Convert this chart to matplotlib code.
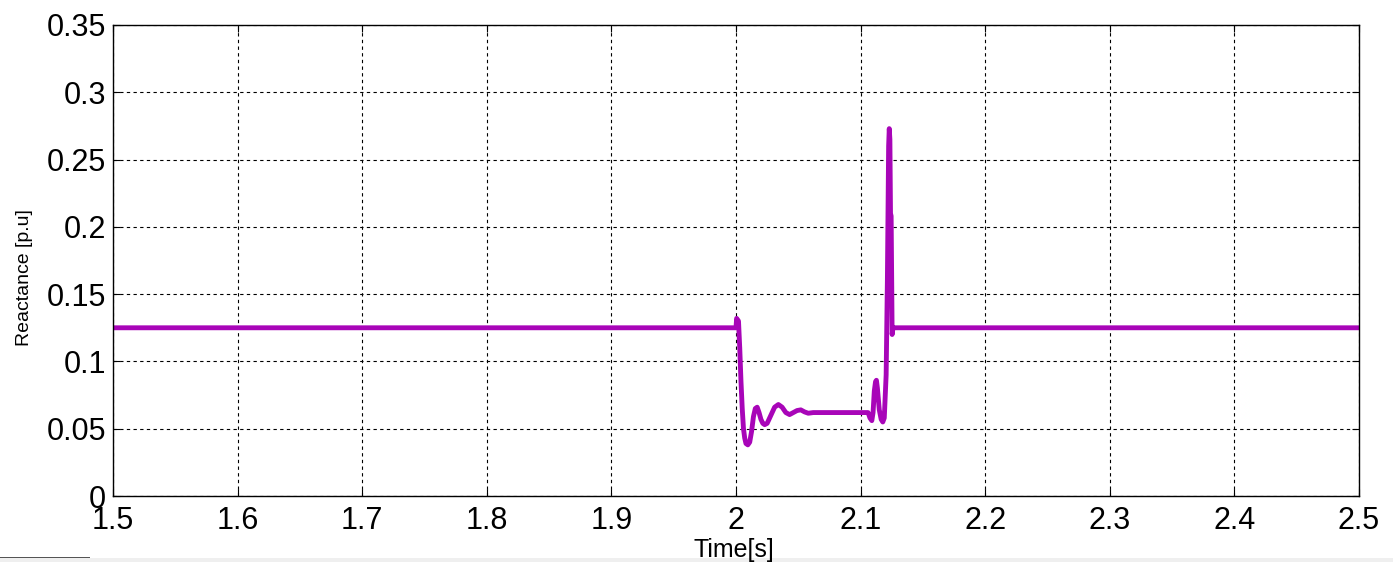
import matplotlib
matplotlib.use("Agg")
import matplotlib.pyplot as plt
from matplotlib.patches import Rectangle

plt.rcParams['font.family'] = ['Liberation Sans', 'DejaVu Sans']

# reactance trace (time in s, reactance in p.u)
time = [1.5, 2.0, 2.0005, 2.002, 2.003, 2.004, 2.005, 2.006, 2.007, 2.008,
        2.0095, 2.011, 2.0125, 2.014, 2.0155, 2.017, 2.0185, 2.020, 2.0215,
        2.023, 2.025, 2.028, 2.031, 2.034, 2.037, 2.040, 2.043, 2.046,
        2.049, 2.052, 2.055, 2.058, 2.062, 2.106, 2.1075, 2.109, 2.110,
        2.111, 2.112, 2.1127, 2.1135, 2.115, 2.1165, 2.1178, 2.119, 2.1205,
        2.1215, 2.1225, 2.123, 2.1235, 2.124, 2.1245, 2.125, 2.1253, 2.126,
        2.5]
reactance = [0.125, 0.125, 0.132, 0.130, 0.11, 0.085, 0.065, 0.05, 0.043, 0.039,
             0.038, 0.040, 0.048, 0.059, 0.065, 0.066, 0.062, 0.057, 0.054,
             0.053, 0.054, 0.060, 0.066, 0.068, 0.066, 0.062, 0.0605, 0.062,
             0.0635, 0.064, 0.0625, 0.0615, 0.062, 0.062, 0.058, 0.056, 0.062,
             0.078, 0.085, 0.086, 0.080, 0.064, 0.057, 0.055, 0.058, 0.09,
             0.16, 0.26, 0.273, 0.265, 0.21, 0.208, 0.155, 0.12, 0.125,
             0.125]

x_ticks = [1.5, 1.6, 1.7, 1.8, 1.9, 2, 2.1, 2.2, 2.3, 2.4, 2.5]
x_labels = ['1.5', '1.6', '1.7', '1.8', '1.9', '2', '2.1', '2.2', '2.3', '2.4', '2.5']
y_ticks = [0, 0.05, 0.1, 0.15, 0.2, 0.25, 0.3, 0.35]
y_labels = ['0', '0.05', '0.1', '0.15', '0.2', '0.25', '0.3', '0.35']

fig = plt.figure(figsize=(14, 5.62), dpi=100)
ax = fig.add_axes([113 / 1400, 1 - 496 / 562, (1359 - 113) / 1400, (496 - 25) / 562])

ax.plot(time, reactance, color='#A805B8', linewidth=3.5)

ax.set_xlim(1.5, 2.5)
ax.set_ylim(0, 0.35)
ax.set_xticks(x_ticks)
ax.set_xticklabels(x_labels)
ax.set_yticks(y_ticks)
ax.set_yticklabels(y_labels)
ax.tick_params(direction='in', length=5, width=0.8, labelsize=22,
               top=True, right=True)
ax.tick_params(axis='x', pad=7)
ax.tick_params(axis='y', pad=5)
ax.grid(True, color='black', linestyle=(0, (3, 3)), linewidth=0.8)
for s in ax.spines.values():
    s.set_linewidth(1.0)

ax.set_ylabel('Reactance [p.u]', fontsize=14)
ax.yaxis.set_label_coords(-0.064, 0.463)
ax.set_xlabel('Time[s]', fontsize=18)
ax.xaxis.set_label_coords(0.4985, -0.089)

# grey strip along the bottom edge of the screenshot
fig.patches.append(Rectangle((0, 0), 1393 / 1400, 4 / 562, transform=fig.transFigure,
                             facecolor='#efefef', edgecolor='none', zorder=-1))
fig.patches.append(Rectangle((0, 4 / 562), 90 / 1400, 1.5 / 562, transform=fig.transFigure,
                             facecolor='#555555', edgecolor='none'))

fig.savefig('out.png', dpi=100)
